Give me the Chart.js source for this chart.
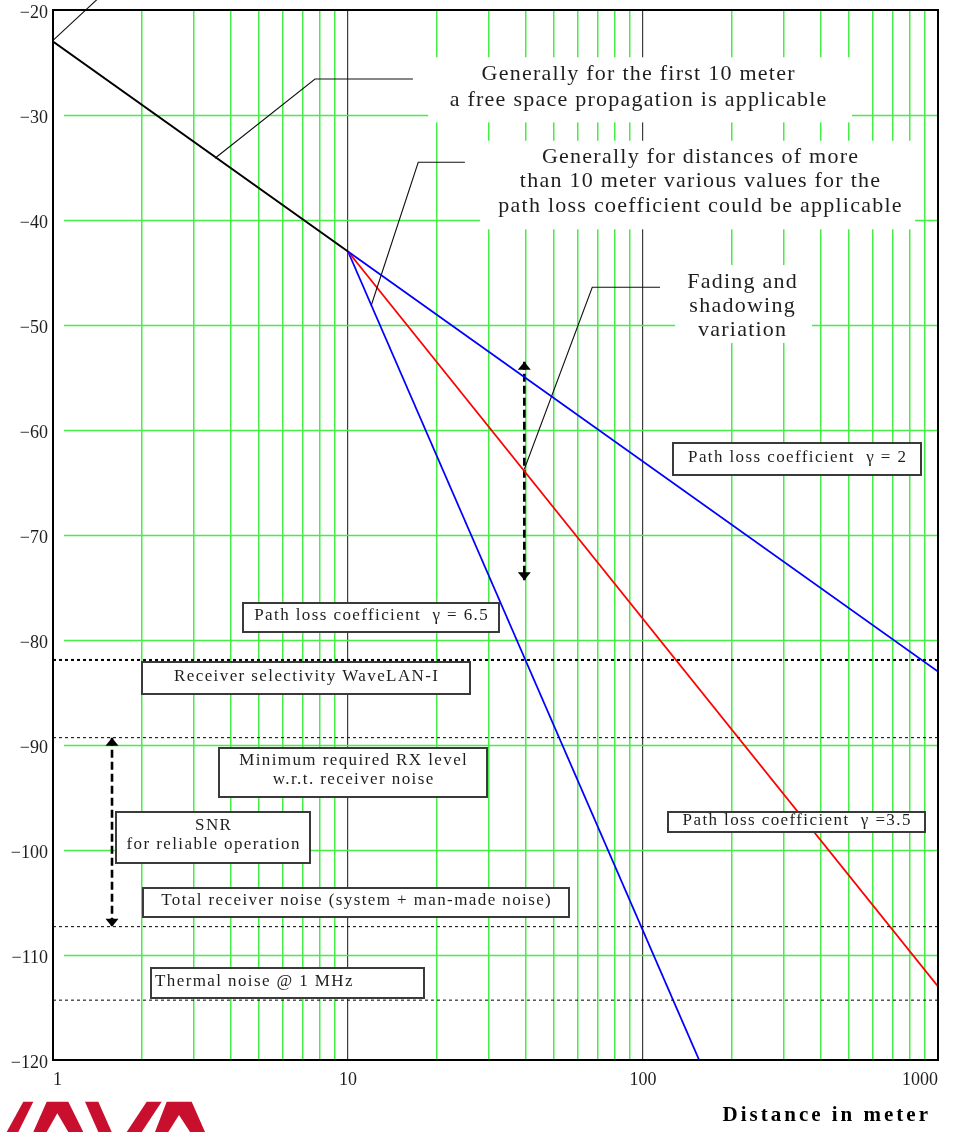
<!DOCTYPE html>
<html>
<head>
<meta charset="utf-8">
<script src="https://cdn.jsdelivr.net/npm/chart.js@4/dist/chart.umd.min.js"></script>
<style>
  html, body { margin: 0; padding: 0; background: #fff; }
  canvas { display: block; }
</style>
</head>
<body>
<canvas id="chart" width="955" height="1132"></canvas>
<script>
// Received level (dBm) versus distance (m): end points of each straight segment
const freeSpaceDist = [1, 10];
const freeSpaceLevel = [-23, -43];
const gamma2Dist = [10, 1000];
const gamma2Level = [-43, -83];
const gamma35Dist = [10, 1000];
const gamma35Level = [-43, -113];
const gamma65Dist = [10, 155];
const gamma65Level = [-43, -120];

// Reference levels (dBm)
const selectivityLevel = -81.9;
const minRxLevel = -89.3;
const totalNoiseLevel = -107.3;
const thermalNoiseLevel = -114.3;

// Double arrows: SNR span and fading/shadowing spread
const arrowDist = [1.585, 39.6];
const arrowTop = [minRxLevel, -53.5];
const arrowBottom = [totalNoiseLevel, -74.3];

// Axis ticks
const distanceGrid = [1, 2, 3, 4, 5, 6, 7, 8, 9,
                      10, 20, 30, 40, 50, 60, 70, 80, 90,
                      100, 200, 300, 400, 500, 600, 700, 800, 900, 1000];
const distanceLabels = [1, 10, 100, 1000];
const levelTicks = [-120, -110, -100, -90, -80, -70, -60, -50, -40, -30, -20];

// Free-standing notes: anchor (distance, level) of first baseline, white backing [x1, y1, x2, y2]
const noteBlocks = [
  { lines: ['Generally for the first 10 meter', 'a free space propagation is applicable'],
    x: 96.2, y: -26.67, step: 25.5, bg: [18.7, -24.5, 511, -30.7] },
  { lines: ['Generally for distances of more', 'than 10 meter various values for the', 'path loss coefficient could be applicable'],
    x: 156, y: -34.57, step: 24.5, bg: [28.0, -32.45, 835.6, -40.89] },
  { lines: ['Fading and', 'shadowing', 'variation'],
    x: 216.6, y: -46.48, step: 24, bg: [128.4, -44.29, 374, -51.71] }
];

// Framed labels: [x1, y1, x2, y2] in distance / level
const labelBoxes = [
  { lines: ['Path loss coefficient  \u03b3 = 2'], box: [126.4, -61.24, 876, -64.29] },
  { lines: ['Path loss coefficient  \u03b3 = 6.5'], box: [4.406, -76.48, 32.5, -79.24] },
  { lines: ['Receiver selectivity WaveLAN-I'], box: [2.003, -82.1, 25.9, -85.14] },
  { lines: ['Minimum required RX level', 'w.r.t. receiver noise'], box: [3.653, -90.29, 29.6, -94.95] },
  { lines: ['SNR', 'for reliable operation'], box: [1.635, -96.38, 7.43, -101.24] },
  { lines: ['Total receiver noise (system + man-made noise)'], box: [2.019, -103.62, 56.1, -106.38] },
  { lines: ['Thermal noise @ 1 MHz'], box: [2.149, -111.24, 18.1, -114.1], align: 'left' },
  { lines: ['Path loss coefficient  \u03b3 =3.5'], box: [121.5, -96.38, 903.5, -98.29] }
];

// Leader lines from the notes to the curves
const leaderLines = [
  [[1, -22.9], [1.41, -19]],
  [[3.54, -34.12], [7.73, -26.57], [16.6, -26.57]],
  [[11.97, -48.19], [17.3, -34.5], [24.9, -34.5]],
  [[39.6, -63.74], [67.3, -46.41], [114.2, -46.41]]
];

const GRID_GREEN = '#45ee45';
const SERIF = '"Liberation Serif", "Times New Roman", serif';
const TEXT = '#1e1e1e';

function pts(xs, ys) { return xs.map((v, i) => ({ x: v, y: ys[i] })); }
function level(v) { return pts([1, 1000], [v, v]); }

function spacedText(ctx, str, x, y, align, spacing) {
  ctx.letterSpacing = spacing + 'px';
  ctx.textAlign = align;
  let dx = 0;
  if (align === 'center') dx = spacing / 2;
  else if (align === 'right') dx = spacing;
  ctx.fillText(str, x + dx, y);
  ctx.letterSpacing = '0px';
}

const annotationPlugin = {
  id: 'pathLossNotes',
  beforeDatasetsDraw(chart) {
    const { ctx, chartArea: a, scales: { x, y } } = chart;
    ctx.save();
    // horizontal grid, starting a little right of the level axis
    ctx.strokeStyle = GRID_GREEN;
    ctx.lineWidth = 1.5;
    levelTicks.forEach(v => {
      if (v <= y.min || v >= y.max) return;
      const py = Math.round(y.getPixelForValue(v)) + 0.5;
      ctx.beginPath();
      ctx.moveTo(a.left + 11, py);
      ctx.lineTo(a.right, py);
      ctx.stroke();
    });
    // white backing behind the free-standing notes
    ctx.fillStyle = '#fff';
    noteBlocks.forEach(b => {
      const x1 = x.getPixelForValue(b.bg[0]), x2 = x.getPixelForValue(b.bg[2]);
      const y1 = y.getPixelForValue(b.bg[1]), y2 = y.getPixelForValue(b.bg[3]);
      ctx.fillRect(x1, y1, x2 - x1, y2 - y1);
    });
    ctx.restore();
  },
  afterDatasetsDraw(chart) {
    const { ctx, chartArea: a, scales: { x, y } } = chart;
    ctx.save();

    // arrow heads
    ctx.fillStyle = '#000';
    arrowDist.forEach((d, i) => {
      const px = x.getPixelForValue(d);
      const top = y.getPixelForValue(arrowTop[i]);
      const bot = y.getPixelForValue(arrowBottom[i]);
      const hw = 6.5, hh = 8;
      ctx.beginPath();
      ctx.moveTo(px, top); ctx.lineTo(px - hw, top + hh); ctx.lineTo(px + hw, top + hh); ctx.closePath(); ctx.fill();
      ctx.beginPath();
      ctx.moveTo(px, bot); ctx.lineTo(px - hw, bot - hh); ctx.lineTo(px + hw, bot - hh); ctx.closePath(); ctx.fill();
    });

    // leader lines
    ctx.strokeStyle = '#111';
    ctx.lineWidth = 1.1;
    leaderLines.forEach(line => {
      ctx.beginPath();
      line.forEach((p, i) => {
        const px = x.getPixelForValue(p[0]), py = y.getPixelForValue(p[1]);
        if (i === 0) ctx.moveTo(px, py); else ctx.lineTo(px, py);
      });
      ctx.stroke();
    });

    // free-standing notes
    ctx.fillStyle = TEXT;
    ctx.font = '22px ' + SERIF;
    ctx.textBaseline = 'alphabetic';
    noteBlocks.forEach(b => {
      const cx = x.getPixelForValue(b.x), by = y.getPixelForValue(b.y);
      b.lines.forEach((t, i) => spacedText(ctx, t, cx, by + i * b.step, 'center', 1.25));
    });

    // framed labels
    labelBoxes.forEach(b => {
      const x1 = Math.round(x.getPixelForValue(b.box[0])), x2 = Math.round(x.getPixelForValue(b.box[2]));
      const y1 = Math.round(y.getPixelForValue(b.box[1])), y2 = Math.round(y.getPixelForValue(b.box[3]));
      ctx.fillStyle = '#fff';
      ctx.fillRect(x1, y1, x2 - x1, y2 - y1);
      ctx.strokeStyle = '#3a3a3a';
      ctx.lineWidth = 2;
      ctx.strokeRect(x1, y1, x2 - x1, y2 - y1);
      ctx.fillStyle = TEXT;
      ctx.font = '17px ' + SERIF;
      ctx.textBaseline = 'middle';
      const cy = (y1 + y2) / 2;
      const step = 19.5;
      const n = b.lines.length;
      const first = n === 1 ? cy - 1.5 : cy - (n - 1) * step / 2 - 2.5;
      b.lines.forEach((t, i) => {
        if (b.align === 'left') spacedText(ctx, t, x1 + 4, first + i * step, 'left', 1.4);
        else spacedText(ctx, t, (x1 + x2) / 2, first + i * step, 'center', 1.4);
      });
    });

    // plot frame
    ctx.strokeStyle = '#000';
    ctx.lineWidth = 2;
    ctx.strokeRect(a.left, a.top, a.right - a.left, a.bottom - a.top);

    // distance axis title
    ctx.fillStyle = '#000';
    ctx.font = 'bold 21px ' + SERIF;
    ctx.textBaseline = 'alphabetic';
    spacedText(ctx, 'Distance in meter', 928, 1121, 'right', 3);

    // corner logo
    ctx.fillStyle = '#c8102e';
    const logo = [
      [[23.3, 1101.7], [33.3, 1101.7], [18.3, 1132], [6.7, 1132]],
      [[46.7, 1101.7], [68.3, 1101.7], [83.3, 1132], [68.3, 1132], [57.3, 1113.3], [46.7, 1132], [33.3, 1132]],
      [[85, 1101.7], [98.3, 1101.7], [111.7, 1132], [98.3, 1132]],
      [[146.7, 1101.7], [161.7, 1101.7], [141.7, 1132], [126.7, 1132]],
      [[166.7, 1101.7], [191.7, 1101.7], [205, 1132], [190, 1132], [179, 1115], [168.3, 1132], [155, 1132]]
    ];
    logo.forEach(poly => {
      ctx.beginPath();
      poly.forEach((p, i) => (i ? ctx.lineTo(p[0], p[1]) : ctx.moveTo(p[0], p[1])));
      ctx.closePath();
      ctx.fill();
    });
    ctx.restore();
  }
};

const dashedRef = (v, width, dash) => ({
  data: level(v), borderColor: '#000', borderWidth: width, borderDash: dash,
  showLine: true, pointRadius: 0, fill: false
});

const chart = new Chart(document.getElementById('chart'), {
  type: 'scatter',
  data: {
    datasets: [
      dashedRef(selectivityLevel, 2, [3, 3]),
      dashedRef(minRxLevel, 1, [3, 3]),
      dashedRef(totalNoiseLevel, 1, [3, 3]),
      dashedRef(thermalNoiseLevel, 1, [3, 3]),
      { label: 'free space', data: pts(freeSpaceDist, freeSpaceLevel), borderColor: '#000', borderWidth: 2, showLine: true, pointRadius: 0 },
      { label: 'gamma 2', data: pts(gamma2Dist, gamma2Level), borderColor: '#0000ff', borderWidth: 1.8, showLine: true, pointRadius: 0 },
      { label: 'gamma 3.5', data: pts(gamma35Dist, gamma35Level), borderColor: '#ff0000', borderWidth: 1.8, showLine: true, pointRadius: 0 },
      { label: 'gamma 6.5', data: pts(gamma65Dist, gamma65Level), borderColor: '#0000ff', borderWidth: 1.8, showLine: true, pointRadius: 0 },
      ...arrowDist.map((d, i) => ({
        data: pts([d, d], [arrowTop[i], arrowBottom[i]]), borderColor: '#000', borderWidth: 2.6,
        borderDash: [8, 4], showLine: true, pointRadius: 0
      }))
    ]
  },
  options: {
    responsive: false,
    animation: false,
    devicePixelRatio: 1,
    layout: { padding: { left: 0, top: 10, right: 17, bottom: 0 } },
    plugins: { legend: { display: false }, tooltip: { enabled: false } },
    scales: {
      x: {
        type: 'logarithmic',
        min: 1,
        max: 1000,
        afterBuildTicks: s => { s.ticks = distanceGrid.map(v => ({ value: v })); },
        afterFit: s => { s.height = 72; s.paddingLeft = 0; s.paddingRight = 0; },
        ticks: {
          autoSkip: false, maxRotation: 0, minRotation: 0, align: 'inner', padding: 9,
          color: TEXT, font: { family: SERIF, size: 18 },
          callback: v => (distanceLabels.includes(v) ? String(v) : '')
        },
        grid: {
          drawTicks: false,
          color: c => {
            const v = c.tick && c.tick.value;
            if (v === 1 || v === 1000) return 'rgba(0,0,0,0)';
            if (v === 10 || v === 100) return '#3c3c3c';
            return GRID_GREEN;
          },
          lineWidth: c => {
            const v = c.tick && c.tick.value;
            return (v === 10 || v === 100) ? 1.2 : 1.5;
          }
        },
        border: { display: false }
      },
      y: {
        min: -120,
        max: -20,
        afterBuildTicks: s => { s.ticks = levelTicks.map(v => ({ value: v })); },
        afterFit: s => { s.width = 53; s.paddingTop = 0; s.paddingBottom = 0; },
        ticks: {
          padding: 5, labelOffset: 3, color: TEXT, font: { family: SERIF, size: 18 },
          callback: v => (v < 0 ? '\u2212' : '') + Math.abs(v)
        },
        grid: { display: false, drawTicks: false },
        border: { display: false }
      }
    }
  },
  plugins: [annotationPlugin]
});
</script>
</body>
</html>
